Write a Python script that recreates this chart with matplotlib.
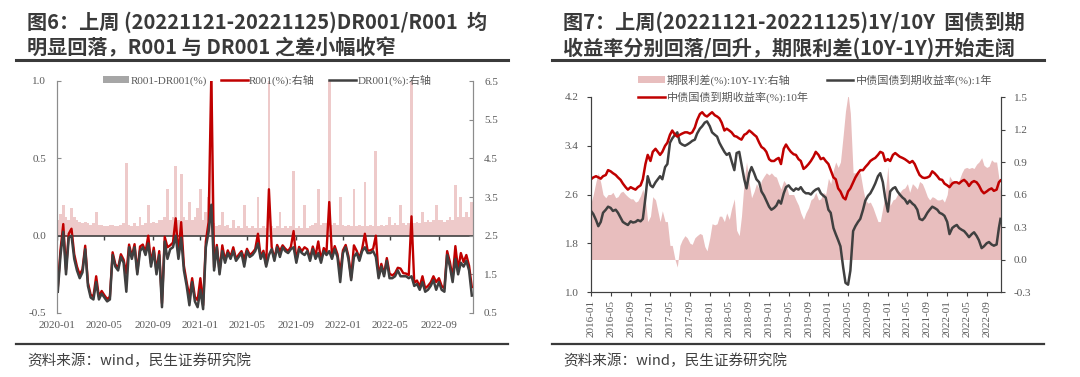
import matplotlib
matplotlib.use('Agg')
import matplotlib.pyplot as plt
import matplotlib.dates as mdates
import matplotlib.ticker as mticker
import numpy as np
import pandas as pd
from matplotlib.lines import Line2D
from matplotlib.patches import Patch

# ---------------- data: panel 1 (weekly, Fridays) ----------------
dates1 = pd.date_range('2020-01-03', '2022-11-25', freq='W-FRI')
dr001 = [
    1.05, 2.00, 2.60, 1.50, 2.45, 2.50, 1.90, 1.60, 1.40, 1.55,
    2.15, 1.20, 0.90, 0.85, 1.30, 0.85, 1.00, 0.90, 0.80, 0.85,
    2.00, 1.70, 1.60, 1.95, 1.80, 1.05, 2.20, 1.90, 2.20, 1.50,
    2.10, 2.20, 2.00, 2.30, 1.70, 2.10, 1.50, 2.00, 0.65, 2.35,
    1.90, 2.15, 2.20, 2.50, 1.90, 2.45, 1.60, 1.20, 0.70, 1.30,
    0.80, 0.65, 1.10, 0.60, 2.20, 2.60, 3.30, 1.60, 2.20, 1.50,
    2.10, 1.80, 2.05, 1.90, 2.10, 1.85, 1.95, 2.05, 1.70, 2.10,
    1.95, 2.00, 2.10, 2.30, 1.90, 2.05, 1.70, 2.00, 2.15, 1.85,
    2.20, 1.95, 2.20, 2.10, 2.05, 2.15, 2.20, 1.80, 2.15, 2.05,
    2.00, 2.10, 1.85, 2.15, 1.90, 2.05, 1.80, 2.10, 2.00, 2.10,
    1.90, 2.15, 1.95, 1.30, 2.05, 2.20, 1.90, 1.35, 1.95, 2.05,
    1.85, 2.10, 2.20, 2.05, 2.05, 2.10, 1.95, 1.40, 1.70, 1.45,
    1.85, 1.40, 1.40, 1.45, 1.60, 1.45, 1.45, 1.45, 1.40, 1.45,
    1.20, 1.25, 1.10, 1.30, 1.05, 1.10, 1.20, 1.35, 1.10, 1.30,
    1.10, 1.05, 2.00, 1.70, 1.30, 1.90, 1.50, 1.80, 1.70, 1.85,
    1.60, 0.95,
]
spread1 = [
    0.10, 0.14, 0.20, 0.12, 0.10, 0.18, 0.12, 0.10, 0.09, 0.08,
    0.09, 0.08, 0.07, 0.08, 0.15, 0.07, 0.07, 0.06, 0.06, 0.07,
    0.07, 0.06, 0.06, 0.07, 0.08, 0.47, 0.07, 0.06, 0.08, 0.06,
    0.12, 0.07, 0.08, 0.20, 0.08, 0.09, 0.08, 0.10, 0.10, 0.12,
    0.30, 0.10, 0.12, 0.45, 0.10, 0.40, 0.12, 0.10, 0.22, 0.10,
    0.12, 0.18, 0.30, 0.10, 0.15, 0.25, 3.40, 0.08, 0.06, 0.07,
    0.15, 0.06, 0.07, 0.05, 0.10, 0.05, 0.06, 0.05, 0.20, 0.06,
    0.05, 0.06, 0.05, 0.25, 0.05, 0.06, 0.05, 1.70, 0.06, 0.05,
    0.06, 0.15, 0.05, 0.06, 0.05, 0.06, 0.42, 0.05, 0.06, 0.05,
    0.20, 0.05, 0.06, 0.07, 0.08, 0.30, 0.07, 0.08, 0.08, 1.27,
    0.07, 0.08, 0.07, 0.25, 0.07, 0.06, 0.07, 0.06, 0.30, 0.06,
    0.07, 0.06, 0.35, 0.06, 0.07, 0.06, 0.55, 0.06, 0.07, 0.06,
    0.07, 0.12, 0.07, 0.08, 0.07, 0.20, 0.08, 0.07, 0.08, 1.55,
    0.08, 0.09, 0.08, 0.15, 0.09, 0.10, 0.09, 0.10, 0.20, 0.10,
    0.10, 0.09, 0.10, 0.12, 0.10, 0.33, 0.12, 0.25, 0.12, 0.15,
    0.12, 0.22,
]
r001 = np.array(dr001) + np.array(spread1)

# ---------------- data: panel 2 (semi-monthly + last day) ----------------
dates2 = list(pd.date_range('2016-01-01', '2022-11-15', freq='SMS')) + [pd.Timestamp('2022-11-25')]
y10 = [
    2.85, 2.88, 2.90, 2.88, 2.86, 2.90, 2.92, 3.00, 2.98, 2.95, 2.92, 2.88,
    2.84, 2.78, 2.72, 2.68, 2.72, 2.70, 2.68, 2.72, 2.75, 2.85, 3.10, 3.25,
    3.15, 3.30, 3.35, 3.30, 3.25, 3.30, 3.40, 3.45, 3.58, 3.65, 3.58, 3.55,
    3.58, 3.60, 3.62, 3.62, 3.60, 3.62, 3.70, 3.82, 3.92, 3.95, 3.90, 3.88,
    3.92, 3.95, 3.90, 3.88, 3.85, 3.78, 3.65, 3.68, 3.65, 3.62, 3.56, 3.55,
    3.52, 3.50, 3.58, 3.60, 3.65, 3.62, 3.58, 3.55, 3.45, 3.38, 3.35, 3.30,
    3.18, 3.15, 3.15, 3.18, 3.20, 3.10, 3.35, 3.42, 3.35, 3.30, 3.26, 3.25,
    3.18, 3.15, 3.02, 3.05, 3.10, 3.15, 3.22, 3.30, 3.25, 3.18, 3.20, 3.15,
    3.10, 3.00, 2.88, 2.85, 2.70, 2.65, 2.55, 2.52, 2.65, 2.70, 2.80, 2.88,
    2.95, 3.00, 3.00, 3.05, 3.10, 3.15, 3.18, 3.20, 3.25, 3.30, 3.28, 3.15,
    3.18, 3.15, 3.25, 3.28, 3.25, 3.22, 3.20, 3.18, 3.15, 3.12, 3.15, 3.10,
    3.00, 2.92, 2.88, 2.87, 2.88, 2.90, 2.98, 2.95, 2.90, 2.85, 2.84, 2.78,
    2.75, 2.72, 2.78, 2.80, 2.80, 2.78, 2.82, 2.84, 2.80, 2.74, 2.80, 2.82,
    2.80, 2.75, 2.66, 2.62, 2.65, 2.68, 2.70, 2.66, 2.68, 2.80, 2.83,
]
y1 = [
    2.33, 2.28, 2.18, 2.08, 2.15, 2.30, 2.35, 2.40, 2.38, 2.33, 2.35, 2.30,
    2.22, 2.15, 2.12, 2.10, 2.16, 2.14, 2.15, 2.18, 2.16, 2.20, 2.55, 2.90,
    2.75, 2.72, 2.80, 2.85, 2.90, 2.85, 3.05, 3.10, 3.45, 3.52, 3.58, 3.62,
    3.45, 3.42, 3.40, 3.42, 3.45, 3.48, 3.50, 3.60, 3.68, 3.72, 3.78, 3.80,
    3.72, 3.62, 3.58, 3.55, 3.45, 3.38, 3.30, 3.25, 3.28, 3.15, 3.00, 3.28,
    3.30, 3.10, 2.85, 2.70, 2.95, 3.05, 2.95, 2.85, 2.80, 2.65, 2.58, 2.50,
    2.40, 2.35, 2.38, 2.42, 2.50, 2.45, 2.62, 2.72, 2.75, 2.70, 2.66, 2.70,
    2.68, 2.72, 2.65, 2.62, 2.62, 2.60, 2.65, 2.68, 2.70, 2.62, 2.58, 2.55,
    2.35, 2.30, 2.05, 1.95, 1.85, 1.75, 1.40, 1.15, 1.12, 1.35, 2.00, 2.08,
    2.15, 2.20, 2.35, 2.50, 2.58, 2.62, 2.70, 2.78, 2.90, 2.95, 2.80, 2.55,
    2.32, 2.65, 2.70, 2.72, 2.65, 2.60, 2.55, 2.52, 2.45, 2.50, 2.45, 2.42,
    2.35, 2.20, 2.18, 2.22, 2.30, 2.35, 2.40, 2.38, 2.35, 2.30, 2.28, 2.25,
    2.15, 1.95, 2.05, 2.08, 2.10, 2.05, 2.02, 2.00, 1.95, 1.90, 1.95, 1.98,
    1.92, 1.85, 1.72, 1.75, 1.80, 1.82, 1.78, 1.76, 1.78, 2.05, 2.20,
]
spread2 = np.array(y10) - np.array(y1)   # 期限利差 10Y-1Y

titles1 = ['图6：上周 (20221121-20221125)DR001/R001  均',
           '明显回落，R001 与 DR001 之差小幅收窄']
titles2 = ['图7：上周(20221121-20221125)1Y/10Y  国债到期',
           '收益率分别回落/回升，期限利差(10Y-1Y)开始走阔']
source = '资料来源：wind，民生证券研究院'
legend1 = ['R001-DR001(%)', 'R001(%):右轴', 'DR001(%):右轴']
legend2 = ['期限利差(%):10Y-1Y:右轴', '中债国债到期收益率(%):1年', '中债国债到期收益率(%):10年']

# ---------------- style ----------------
W, H = 1080, 377
RED = '#C00000'
DARK = '#404040'
PINK = '#E8BEBE'
BARPINK = '#EECACA'
TXT = '#595959'
SERIF = ['Liberation Serif', 'Noto Sans CJK SC']
CJK = ['Noto Sans CJK SC', 'DejaVu Sans']

fig = plt.figure(figsize=(W / 100, H / 100), dpi=100)


def fx(px):
    return px / W


def fy(py):
    return 1 - py / H


# headers and footers
for x0, x1, tx, lines in [(16, 508, 27, titles1), (552, 1044, 563, titles2)]:
    fig.text(fx(tx), fy(22), lines[0], fontsize=14.5, fontweight='bold', family=CJK,
             color='#3A3A3A', va='center', ha='left')
    fig.text(fx(tx), fy(48), lines[1], fontsize=14.5, fontweight='bold', family=CJK,
             color='#3A3A3A', va='center', ha='left')
    fig.add_artist(Line2D([fx(x0), fx(x1)], [fy(60), fy(60)], color='#3A3A3A', lw=2.2))
    fig.add_artist(Line2D([fx(x0), fx(x1)], [fy(344), fy(344)], color='#3A3A3A', lw=1.6))
    fig.text(fx(tx), fy(361), source, fontsize=10.5, family=CJK, color='#404040',
             va='center', ha='left')

# ---------------- panel 1 ----------------
ax1 = fig.add_axes([fx(57), fy(313), fx(416), 232 / H])
ax1.bar(dates1, spread1, width=7, color=BARPINK, linewidth=0, zorder=1)
ax1.set_ylim(-0.5, 1.0)
ax1.set_yticks([-0.5, 0.0, 0.5, 1.0])
ax1.yaxis.set_major_formatter(mticker.FormatStrFormatter('%.1f'))
ax1.set_xlim(pd.Timestamp('2020-01-01'), pd.Timestamp('2022-11-28'))
xt1 = pd.date_range('2020-01-01', '2022-09-01', freq='4MS')
ax1.set_xticks(xt1)
ax1.xaxis.set_major_formatter(mdates.DateFormatter('%Y-%m'))
ax1.axhline(0, color=DARK, lw=1.2, zorder=3)
ax1.plot(xt1, [0] * len(xt1), linestyle='none', marker=3, markersize=3, color=DARK, zorder=3)

ax1r = ax1.twinx()
ax1r.plot(dates1, r001, color=RED, lw=1.7)
ax1r.plot(dates1, dr001, color=DARK, lw=1.8)
ax1r.set_ylim(0.5, 6.5)
ax1r.set_yticks([0.5, 1.5, 2.5, 3.5, 4.5, 5.5, 6.5])
ax1r.yaxis.set_major_formatter(mticker.FormatStrFormatter('%.1f'))

for a in (ax1, ax1r):
    a.spines['top'].set_visible(False)
    a.spines['bottom'].set_visible(False)
    a.spines['left'].set_color('#8C8C8C')
    a.spines['right'].set_color('#8C8C8C')
ax1.tick_params(axis='x', length=0, labelsize=8, labelcolor=TXT, pad=6)
ax1.tick_params(axis='y', direction='in', length=3, color='#8C8C8C', labelsize=8, labelcolor=TXT, pad=8)
ax1r.tick_params(axis='y', direction='in', length=3, color='#8C8C8C', labelsize=8, labelcolor=TXT, pad=8)
for lab in ax1.get_xticklabels() + ax1.get_yticklabels() + ax1r.get_yticklabels():
    lab.set_family(SERIF)

h1 = [Patch(facecolor='#A6A6A6', edgecolor='none'),
      Line2D([], [], color=RED, lw=1.8),
      Line2D([], [], color=DARK, lw=1.8)]
leg1 = ax1r.legend(h1, legend1, loc='center', bbox_to_anchor=(fx(267), fy(80)),
                   bbox_transform=fig.transFigure, ncol=3, frameon=False,
                   prop={'family': SERIF, 'size': 8}, handlelength=2.4, handleheight=0.6,
                   handletextpad=0.1, columnspacing=1.3, labelcolor=TXT)

# ---------------- panel 2 ----------------
ax2 = fig.add_axes([fx(591), fy(292), fx(410), 195 / H])
ax2r = ax2.twinx()
ax2r.fill_between(dates2, 0, spread2, color=PINK, linewidth=0)
ax2r.set_ylim(-0.3, 1.5)
ax2r.set_yticks([-0.3, 0.0, 0.3, 0.6, 0.9, 1.2, 1.5])
ax2r.yaxis.set_major_formatter(mticker.FormatStrFormatter('%.1f'))

ax2.plot(dates2, y1, color=DARK, lw=1.8)
ax2.plot(dates2, y10, color=RED, lw=1.8)
ax2.set_zorder(ax2r.get_zorder() + 1)
ax2.patch.set_visible(False)
ax2.set_ylim(1.0, 4.2)
ax2.set_yticks([1.0, 1.8, 2.6, 3.4, 4.2])
ax2.yaxis.set_major_formatter(mticker.FormatStrFormatter('%.1f'))
ax2.set_xlim(pd.Timestamp('2016-01-01'), pd.Timestamp('2022-11-28'))
xt2 = pd.date_range('2016-01-01', '2022-09-01', freq='4MS')
ax2.set_xticks(xt2)
ax2.xaxis.set_major_formatter(mdates.DateFormatter('%Y-%m'))

for a in (ax2, ax2r):
    a.spines['top'].set_visible(False)
    for s in ('left', 'right', 'bottom'):
        a.spines[s].set_color(DARK)
ax2.tick_params(axis='x', direction='out', length=3, color=DARK, labelsize=8,
                labelcolor=TXT, rotation=90, pad=3)
ax2.tick_params(axis='y', direction='out', length=3, color=DARK, labelsize=8, labelcolor=TXT, pad=6)
ax2r.tick_params(axis='y', direction='out', length=3, color=DARK, labelsize=8, labelcolor=TXT, pad=6)
for lab in ax2.get_xticklabels() + ax2.get_yticklabels() + ax2r.get_yticklabels():
    lab.set_family(SERIF)

h2 = [Patch(facecolor=PINK, edgecolor='none'),
      Line2D([], [], color=RED, lw=1.8),
      Line2D([], [], color=DARK, lw=1.8)]
leg2 = ax2.legend(h2, [legend2[0], legend2[2], legend2[1]], loc='upper left',
                  bbox_to_anchor=(fx(628), fy(64)), bbox_transform=fig.transFigure,
                  ncol=2, frameon=False, prop={'family': SERIF, 'size': 8},
                  handlelength=2.4, handleheight=0.6, handletextpad=0.2,
                  columnspacing=1.6, labelspacing=0.55, labelcolor=TXT)

fig.savefig('out.png', dpi=100)
